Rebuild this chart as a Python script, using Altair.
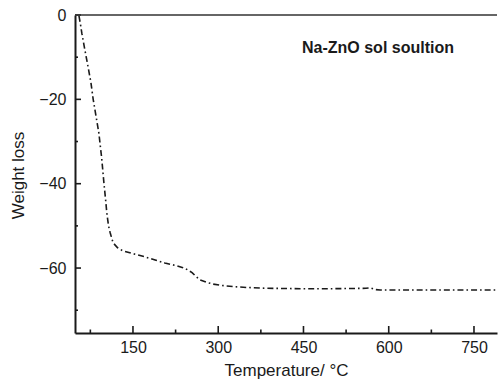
import altair as alt
import pandas as pd

# ---- data ----
temperature = [55, 58, 60, 65, 71, 76, 80, 85, 90, 95, 99, 102, 104, 107, 110, 115,
               123, 132, 150, 170, 189, 206, 225, 238, 246, 254, 261, 268, 280, 291,
               305, 326, 350, 386, 450, 500, 560, 568, 576, 585, 650, 700, 790]
weight_loss = [-0.2, -2.5, -4.3, -8.0, -12.3, -16.0, -20.0, -24.0, -28.0, -34.0, -40.0,
               -44.0, -47.0, -50.0, -51.7, -54.0, -55.2, -55.9, -56.6, -57.3, -58.1,
               -58.8, -59.4, -59.9, -60.4, -61.1, -62.0, -62.8, -63.4, -63.8, -64.1,
               -64.4, -64.6, -64.8, -64.9, -64.9, -64.8, -64.7, -65.1, -65.2, -65.2,
               -65.2, -65.2]
x_major = [150, 300, 450, 600, 750]
x_minor = [75, 225, 375, 525, 675]
y_major = [0, -20, -40, -60]
y_minor = [-10, -30, -50, -70]
label_text = ["Na-ZnO sol soultion"]
x_title = "Temperature/ \u00b0C"
y_title = "Weight loss"

W, H = 422, 318
FONT = "Liberation Sans, Arial, Helvetica, sans-serif"
INK = "#1a1a1a"

xs = alt.Scale(domain=[48, 790.5], nice=False, zero=False)
ys = alt.Scale(domain=[-75.4, 0], nice=False, zero=False)

xaxis = alt.Axis(
    values=x_major, ticks=False, tickSize=0, grid=False, title=x_title,
    domainColor=INK, domainWidth=2, labelFont=FONT, labelFontSize=16,
    labelColor=INK, labelPadding=19, labelBaseline="alphabetic",
    titleFont=FONT, titleFontSize=17, titleFontWeight="normal", titleColor=INK,
    titleY=42, titleBaseline="alphabetic")
yaxis = alt.Axis(
    values=y_major, ticks=False, tickSize=0, grid=False, title=y_title,
    domainColor=INK, domainWidth=2, labelFont=FONT, labelFontSize=16,
    labelColor=INK, labelPadding=9,
    titleFont=FONT, titleFontSize=17, titleFontWeight="normal", titleColor=INK,
    titleX=-52, titleY=160, titleAngle=270, titleBaseline="alphabetic",
    titleAlign="center")

df = pd.DataFrame({"t": temperature, "w": weight_loss})

line = alt.Chart(df).mark_line(
    color=INK, strokeWidth=1.6, strokeDash=[6, 3, 1.6, 3], clip=True
).encode(
    x=alt.X("t:Q", scale=xs, axis=xaxis),
    y=alt.Y("w:Q", scale=ys, axis=yaxis),
)

xmaj = alt.Chart(pd.DataFrame({"t": x_major})).mark_rule(color=INK, strokeWidth=1.6).encode(
    x=alt.X("t:Q", scale=xs, axis=xaxis), y=alt.value(H), y2=alt.value(H - 7))
xmin = alt.Chart(pd.DataFrame({"t": x_minor})).mark_rule(color=INK, strokeWidth=1.6).encode(
    x=alt.X("t:Q", scale=xs, axis=xaxis), y=alt.value(H), y2=alt.value(H - 3.5))
ymaj = alt.Chart(pd.DataFrame({"w": y_major})).mark_rule(color=INK, strokeWidth=1.6).encode(
    y=alt.Y("w:Q", scale=ys, axis=yaxis), x=alt.value(0), x2=alt.value(6))
ymin = alt.Chart(pd.DataFrame({"w": y_minor})).mark_rule(color=INK, strokeWidth=1.6).encode(
    y=alt.Y("w:Q", scale=ys, axis=yaxis), x=alt.value(0), x2=alt.value(3))

top = alt.Chart(pd.DataFrame({"a": [0]})).mark_rule(color="#333333", strokeWidth=1.6).encode(
    x=alt.value(0), x2=alt.value(W), y=alt.value(0))

label = alt.Chart(pd.DataFrame({"s": label_text})).mark_text(
    font=FONT, fontSize=16, fontWeight="bold", color=INK, align="center",
    baseline="alphabetic"
).encode(text="s:N", x=alt.value(303), y=alt.value(37.5))

chart = alt.layer(line, xmaj, xmin, ymaj, ymin, top, label).properties(
    width=W, height=H,
    autosize=alt.AutoSizeParams(type="none"),
    padding={"left": 75, "top": 15, "right": 1, "bottom": 47},
    background="white",
).configure_view(stroke=None)

chart.save("out.html", embed_options={"renderer": "svg", "actions": False})
